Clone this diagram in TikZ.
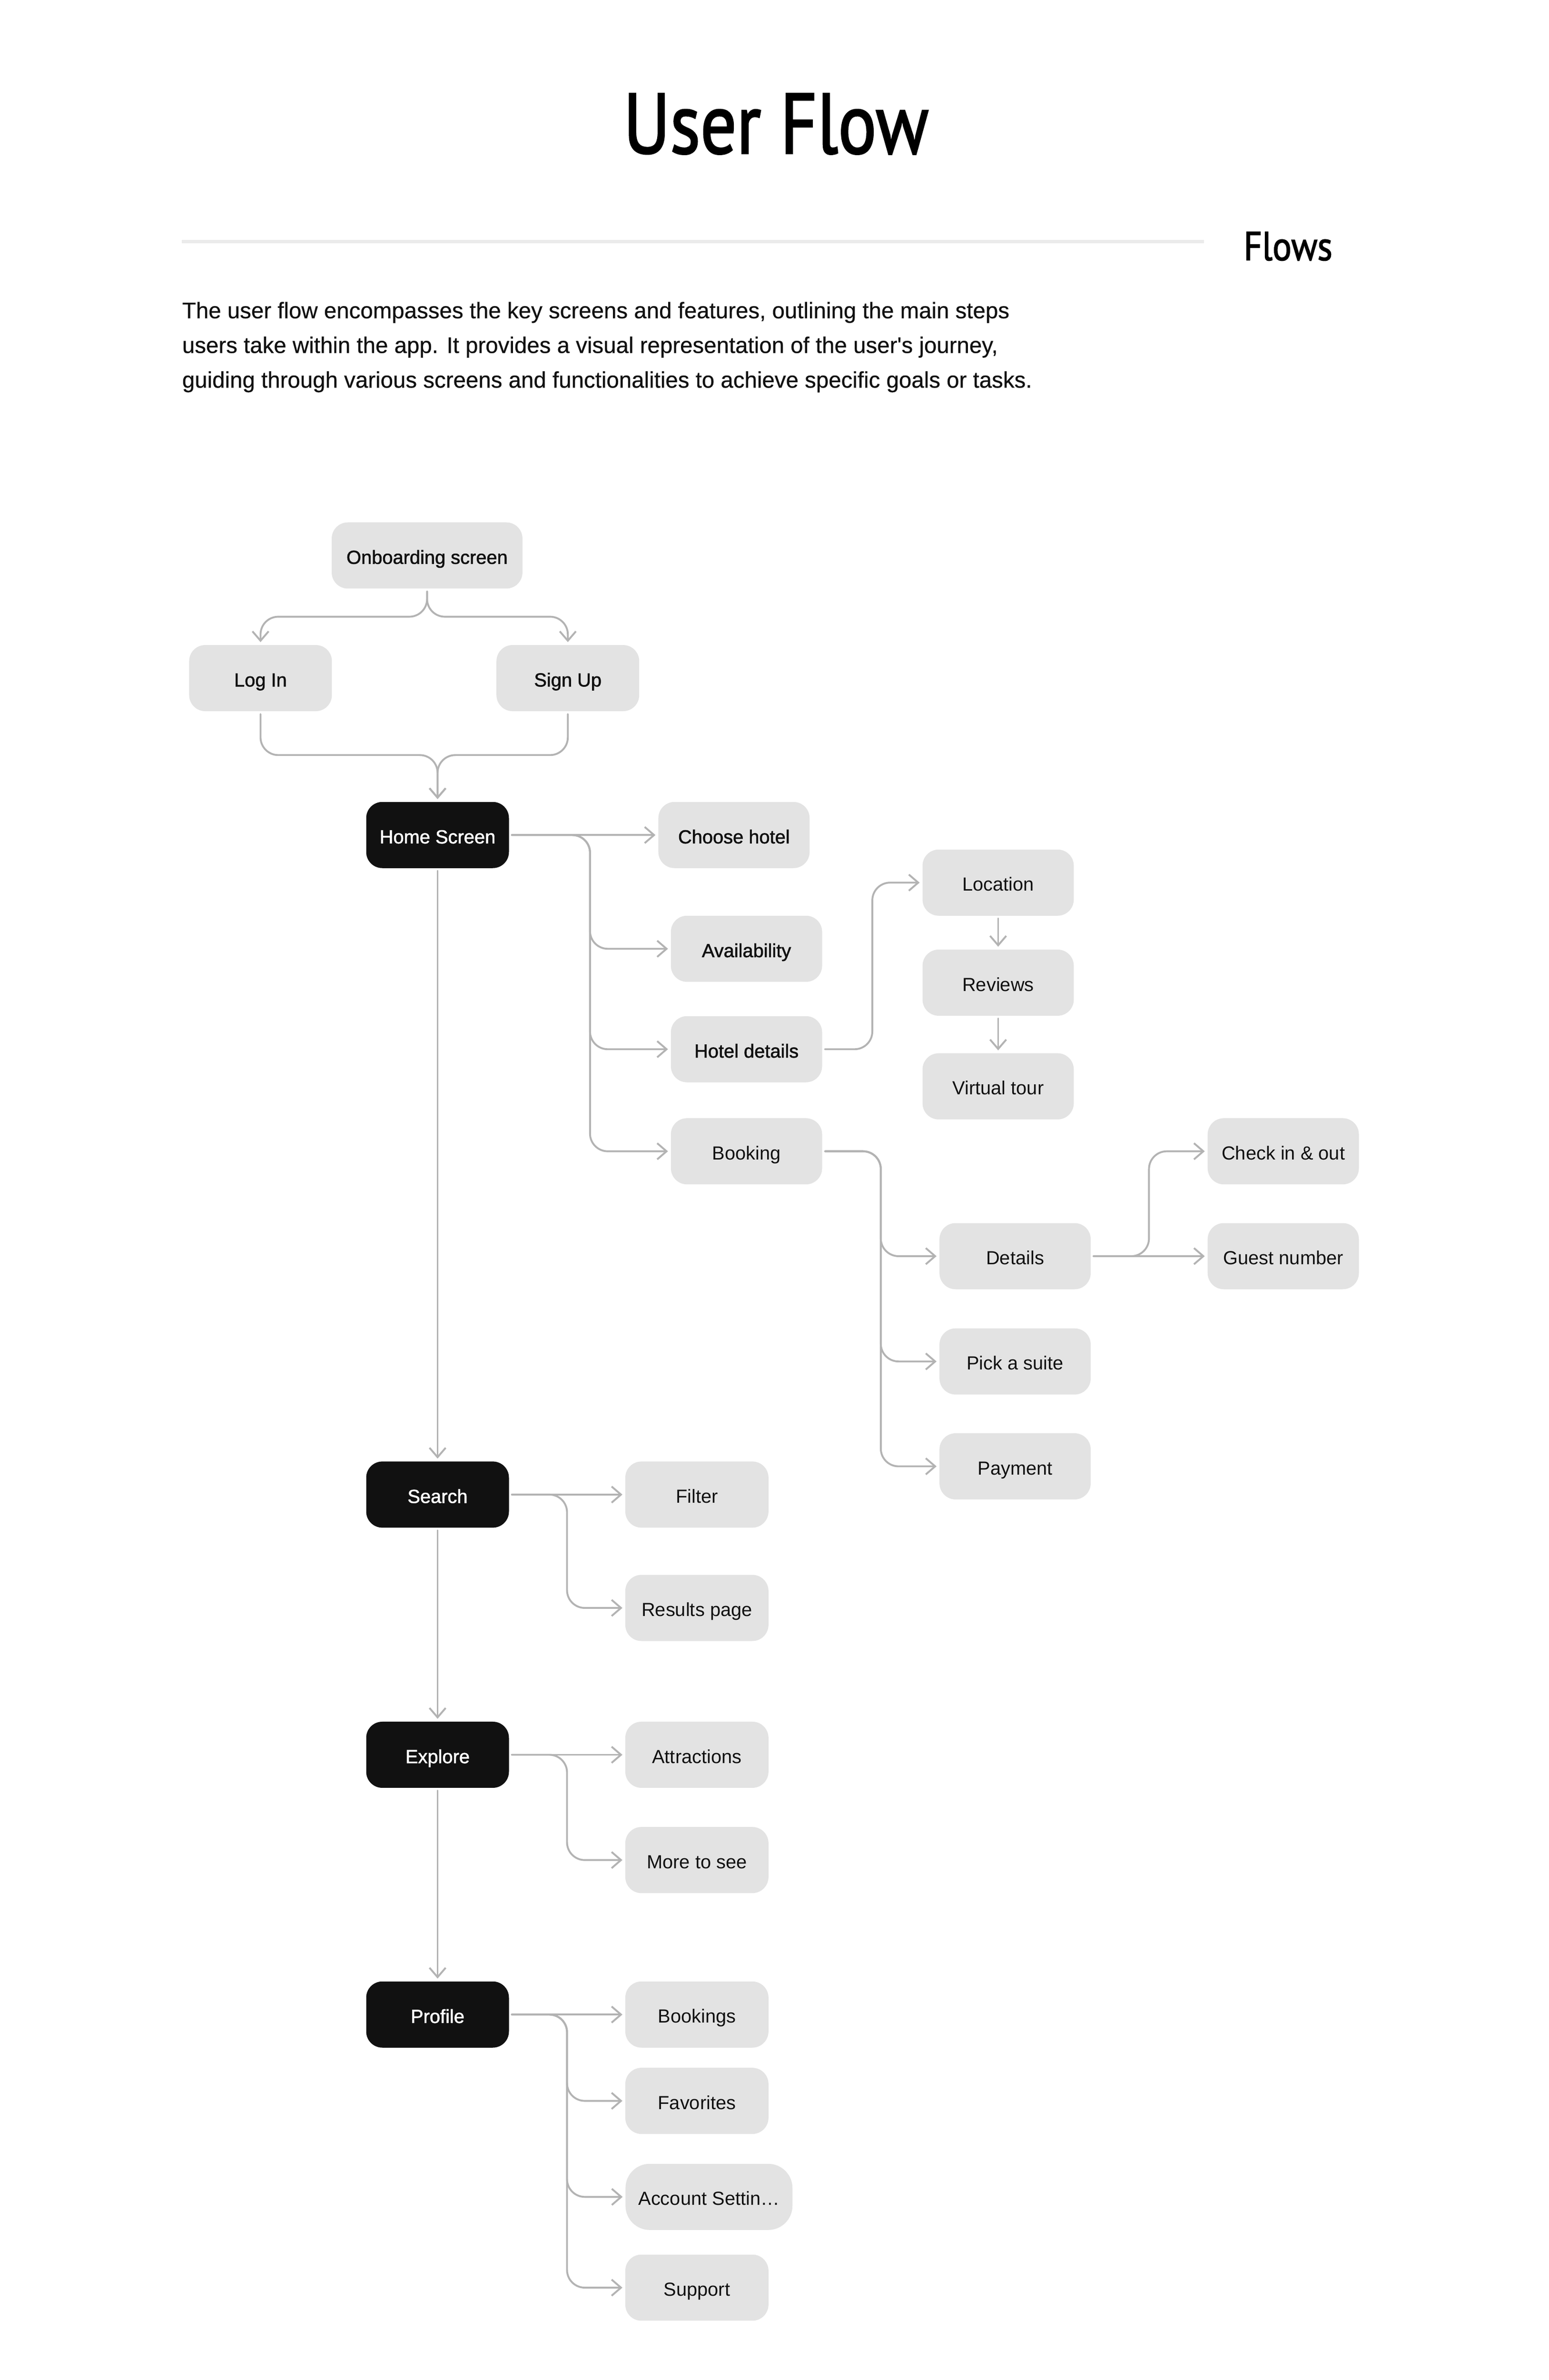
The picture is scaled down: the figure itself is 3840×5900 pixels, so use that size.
\documentclass[tikz,border=0pt]{standalone}
\usepackage{fontspec}
\setmainfont{Liberation Sans}
\newfontfamily\medfont[FakeBold=1.6]{Liberation Sans}
\newfontfamily\parafont[FakeBold=0.5]{Liberation Sans}
\newfontfamily\titlefont[FakeBold=2]{PT Sans}
\usetikzlibrary{arrows.meta}
\definecolor{boxgrey}{HTML}{E3E3E3}
\definecolor{ink}{HTML}{111111}
\definecolor{wiregrey}{HTML}{B3B3B3}
\definecolor{rulegrey}{HTML}{EBEBEB}
\tikzset{
  basebox/.style={rectangle, rounded corners=10pt, inner sep=0pt, minimum height=41pt,
    text height=11.1pt, text depth=0.7pt, font=\fontsize{11.75}{13}\selectfont,
    fill=boxgrey, text=ink},
  medtext/.style={font=\medfont\fontsize{11.75}{13}\selectfont},
  wide/.style={basebox, minimum width=93.75pt},
  narrow/.style={basebox, minimum width=88.75pt},
  darkbox/.style={basebox, medtext, fill=ink, text=white, minimum width=88.5pt},
  link/.style={draw=wiregrey, line width=1.15pt, rounded corners=11pt, line cap=round,
    line join=round, shorten <=1.6pt, shorten >=1.6pt,
    -{Straight Barb[length=5.8pt,width=10pt]}},
  paraline/.style={anchor=base west, inner sep=0pt, text=ink, font=\parafont\fontsize{14}{21.5}\selectfont}
}
\begin{document}
\begin{tikzpicture}[x=0.25pt,y=-0.25pt]
\useasboundingbox[fill=white] (0,0) rectangle (3840,5900);

% header
\node[anchor=base, inner sep=0pt] (title) at (1924,380) {\resizebox{189pt}{37pt}{\titlefont User Flow}};
\draw[rulegrey, line width=2pt] (451,599) -- (2985,599);
\node[anchor=base west, inner sep=0pt] (flows) at (3083,645) {\resizebox{55pt}{17.5pt}{\titlefont Flows}};
\node[paraline] (p1) at (451,789) {The user flow encompasses the key screens and features, outlining the main steps};
\node[paraline] (p2) at (451,875) {users take within the app. It provides a visual representation of the user's journey,};
\node[paraline] (p3) at (451,961) {guiding through various screens and functionalities to achieve specific goals or tasks.};

% nodes
\node[basebox, medtext, minimum width=118.25pt] (onb) at (1059,1377) {Onboarding screen};
\node[basebox, medtext, minimum width=88.5pt] (login) at (646,1681) {Log In};
\node[basebox, medtext, minimum width=88.5pt] (signup) at (1408,1681) {Sign Up};
\node[darkbox] (home) at (1085,2070) {Home Screen};
\node[wide, medtext] (choose) at (1820,2070) {Choose hotel};
\node[wide, medtext] (avail) at (1851,2352) {Availability};
\node[wide, medtext] (hotel) at (1851,2601) {Hotel details};
\node[wide] (book) at (1851,2854) {Booking};
\node[wide] (loc) at (2475,2188) {Location};
\node[wide] (rev) at (2475,2436) {Reviews};
\node[wide] (vt) at (2475,2693) {Virtual tour};
\node[wide] (det) at (2517,3114) {Details};
\node[wide] (suite) at (2517,3375) {Pick a suite};
\node[wide] (pay) at (2517,3635) {Payment};
\node[wide] (check) at (3182,2854) {Check in \& out};
\node[wide] (guest) at (3182,3114) {Guest number};
\node[darkbox] (search) at (1085,3705) {Search};
\node[narrow] (filter) at (1728,3705) {Filter};
\node[narrow] (results) at (1728,3986) {Results page};
\node[darkbox] (explore) at (1085,4350) {Explore};
\node[narrow] (attr) at (1728,4350) {Attractions};
\node[narrow] (more) at (1728,4611) {More to see};
\node[darkbox] (profile) at (1085,4994) {Profile};
\node[narrow] (bookings) at (1728,4994) {Bookings};
\node[narrow] (fav) at (1728,5208) {Favorites};
\node[narrow, minimum width=103.5pt, rounded corners=15pt] (acct) at (1758,5446) {Account Settin…};
\node[narrow] (support) at (1728,5671) {Support};

% trunk coordinates
\coordinate (htrunk) at (1463,2070);
\coordinate (ltrunk) at (2163,2601);
\coordinate (btrunk) at (2184,2854);
\coordinate (dtrunk) at (2849,3114);
\coordinate (strunk) at (1406,3705);
\coordinate (etrunk) at (1406,4350);
\coordinate (ptrunk) at (1406,4994);

% connectors
\draw[link] (onb.south) -- ++(0,69) -| (login.north);
\draw[link] (onb.south) -- ++(0,69) -| (signup.north);
\draw[link] (login.south) -- ++(0,108) -| (home.north);
\draw[link] (signup.south) -- ++(0,108) -| (home.north);

\draw[link] (home.east) -- (choose.west);
\draw[link] (home.east) -- (htrunk) |- (avail.west);
\draw[link] (home.east) -- (htrunk) |- (hotel.west);
\draw[link] (home.east) -- (htrunk) |- (book.west);

\draw[link] (hotel.east) -- (ltrunk) |- (loc.west);
\draw[link] (loc.south) -- (rev.north);
\draw[link] (rev.south) -- (vt.north);

\draw[link] (book.east) -- (btrunk) |- (det.west);
\draw[link] (book.east) -- (btrunk) |- (suite.west);
\draw[link] (book.east) -- (btrunk) |- (pay.west);

\draw[link] (det.east) -- (guest.west);
\draw[link] (det.east) -- (dtrunk) |- (check.west);

\draw[link] (home.south) -- (search.north);
\draw[link] (search.south) -- (explore.north);
\draw[link] (explore.south) -- (profile.north);

\draw[link] (search.east) -- (filter.west);
\draw[link] (search.east) -- (strunk) |- (results.west);

\draw[link] (explore.east) -- (attr.west);
\draw[link] (explore.east) -- (etrunk) |- (more.west);

\draw[link] (profile.east) -- (bookings.west);
\draw[link] (profile.east) -- (ptrunk) |- (fav.west);
\draw[link] (profile.east) -- (ptrunk) |- (acct.west);
\draw[link] (profile.east) -- (ptrunk) |- (support.west);
\end{tikzpicture}
\end{document}
